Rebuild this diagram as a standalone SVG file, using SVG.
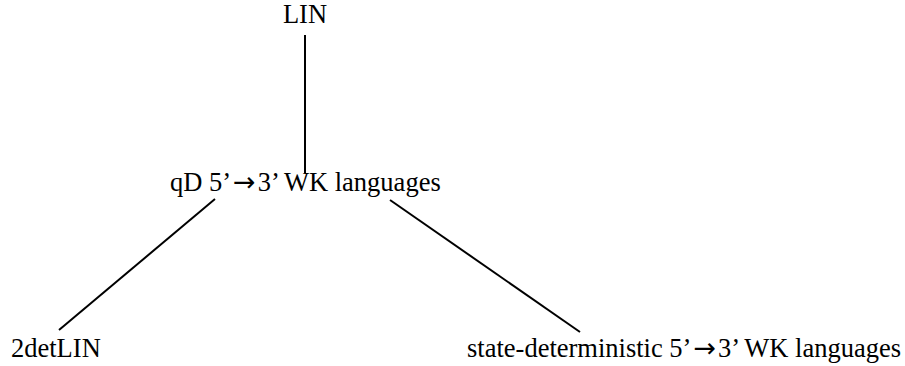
<svg xmlns="http://www.w3.org/2000/svg" width="905" height="366" viewBox="0 0 905 366">
<style>
text{font-family:"Liberation Serif","Times New Roman",serif;font-size:26.5px;fill:#000}
.a{font-family:"DejaVu Sans",sans-serif;font-size:27px}
.e{stroke:#000;stroke-width:2;fill:none}
</style>
<rect width="905" height="366" fill="#fff"/>
<g id="connectors">
<line class="e" x1="305" y1="35" x2="305" y2="173"/>
<line class="e" x1="215" y1="199" x2="59" y2="330"/>
<line class="e" x1="390" y1="200" x2="580" y2="332"/>
</g>
<g id="n-lin"><text x="305" y="23" text-anchor="middle">LIN</text></g>
<g id="n-qd"><text x="170" y="191">qD 5’<tspan class="a" dx="2">→</tspan><tspan dx="2">3’ WK languages</tspan></text></g>
<g id="n-2det"><text x="11" y="357">2detLIN</text></g>
<g id="n-sd"><text x="467" y="357">state-deterministic 5’<tspan class="a" dx="2">→</tspan><tspan dx="2">3’ WK languages</tspan></text></g>
</svg>
